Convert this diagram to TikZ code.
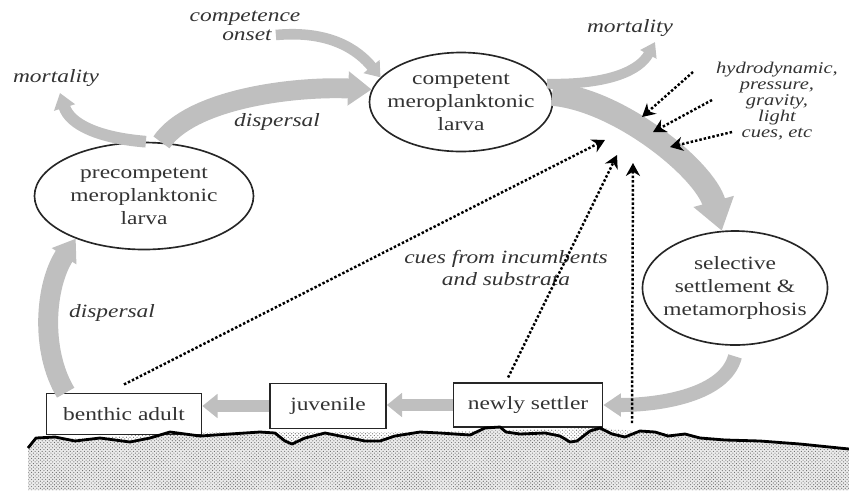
\documentclass[tikz,border=0pt]{standalone}
\usepackage{fontspec}
\setmainfont{Liberation Serif}[FakeStretch=1.25]
\usetikzlibrary{arrows.meta,shapes.geometric,patterns,positioning}

\begin{document}
\begin{tikzpicture}[x=0.03cm,y=-0.03cm,
    every node/.style={text=black!80,font=\fontsize{16}{19.5}\selectfont},
    stage/.style={ellipse,draw=black!85,line width=1.4pt,fill=white,inner ysep=0pt,align=center},
    stagebox/.style={rectangle,draw=black!85,line width=1.4pt,fill=white,inner sep=0pt},
    lbl/.style={font=\fontsize{16}{19.5}\selectfont\itshape,align=center},
    flow/.style={black!25,line width=#1},
    cue/.style={black,line width=2.1pt,dash pattern=on 2.1pt off 1.7pt,-{Stealth[length=11pt,width=12pt]}}]
  \useasboundingbox (0,0) rectangle (849,490);

  % sea floor
  \fill[black!8] (28,448) -- (36,438) -- (55,437) -- (75,441) -- (100,438) -- (130,442) -- (150,438) -- (170,432) -- (185,434) -- (200,436) -- (230,434) -- (260,432) -- (275,433) -- (285,441) -- (292,444) -- (305,438) -- (325,433) -- (345,437) -- (365,441) -- (380,441) -- (395,436) -- (420,432) -- (440,433) -- (470,435) -- (485,428) -- (500,427) -- (506,432) -- (520,434) -- (545,433) -- (560,436) -- (570,442) -- (577,441) -- (590,431) -- (600,428) -- (612,434) -- (625,437) -- (640,431) -- (655,432) -- (668,436) -- (685,434) -- (700,438) -- (725,440) -- (760,441) -- (800,444) -- (849,449) -- (849,490) -- (28,490) -- cycle;
  \fill[pattern=crosshatch dots,pattern color=black!60] (28,448) -- (36,438) -- (100,438) -- (170,432) -- (260,432) -- (420,432) -- (600,428) -- (849,449) -- (849,490) -- (28,490) -- cycle;

  % stages
  \node[stage,minimum width=6.24cm,minimum height=3.21cm] (pre) at (144,196) {precompetent\\meroplanktonic\\larva};
  \node[stage,inner xsep=-8pt,minimum width=5.49cm,minimum height=2.97cm] (comp) at (461,102) {competent\\meroplanktonic\\larva};
  \node[stage,inner xsep=-8pt,minimum width=5.55cm,minimum height=3.42cm] (sel) at (735,288) {selective\\settlement \&\\metamorphosis};
  \node[stagebox,minimum width=4.47cm,minimum height=1.32cm] (newly) at (528,405) {newly settler};
  \node[stagebox,minimum width=3.48cm,minimum height=1.35cm] (juv) at (328,406) {juvenile};
  \node[stagebox,minimum width=4.65cm,minimum height=1.23cm] (adult) at (124,414) {benthic adult};

  % labels
  \node[lbl] (compet) at (245,18) {competence};
  \node[lbl] (onset) at (247,35) {onset};
  \node[lbl] (mortL) at (56,78) {mortality};
  \node[lbl] (dispT) at (277,122) {dispersal};
  \node[lbl] (mortR) at (630,28) {mortality};
  \node[lbl,font=\fontsize{14}{13.6}\selectfont\itshape] (phys) at (777,101) {hydrodynamic,\\pressure,\\gravity,\\light\\cues, etc};
  \node[lbl] (cues) at (506,268) {cues from incumbents\\and substrata};
  \node[lbl] (dispL) at (112,313) {dispersal};

  \coordinate (mL) at (60,93);
  \coordinate (mR) at (655,42);
  \coordinate (t1) at (605,140);
  \coordinate (t2) at (617,155);
  \coordinate (t3) at (633,163);
  \coordinate (g3) at (632,423);
  \coordinate (h1) at (693,72);
  \coordinate (h2) at (712,100);
  \coordinate (h3) at (732,132);
  \coordinate (p1) at (642,117);
  \coordinate (p2) at (653,132);
  \coordinate (p3) at (670,147);

  % life cycle
  \draw[flow=10pt,-{Triangle[length=13pt,width=18pt]}] (pre.88) .. controls (100,138) and (70,125) .. (mL);
  \draw[flow=17pt,-{Triangle[length=20pt,width=28pt]}] (pre.72) .. controls (190,100) and (290,86) .. (comp.172);
  \draw[flow=9pt,-{Triangle[length=12pt,width=17pt]}] (onset.east) .. controls (330,30) and (358,50) .. (comp.163);
  \draw[flow=8.5pt,-{Triangle[length=12pt,width=15pt]}] (comp.12) .. controls (610,85) and (640,70) .. (mR);
  \draw[flow=20pt,-{Triangle[length=26pt,width=34pt]}] (comp.5) .. controls (620,100) and (705,170) .. (sel.103);
  \draw[flow=12pt,-{Triangle[length=15pt,width=19pt]}] ([yshift=-9pt]sel.south) .. controls (725,395) and (660,405) .. (newly.east);
  \draw[flow=11pt,-{Triangle[length=13pt,width=20pt]}] (newly.west) -- (newly.west -| juv.east);
  \draw[flow=11pt,-{Triangle[length=13pt,width=20pt]}] (juv.west) -- (juv.west -| adult.east);
  \draw[flow=17pt,-{Triangle[length=18pt,width=24pt]}] ([xshift=0.6cm]adult.north west) .. controls (40,350) and (45,285) .. (pre.212);

  % cues
  \draw[cue] ([yshift=7pt]adult.north) -- (t1);
  \draw[cue] ([xshift=-17pt,yshift=4pt]newly.north) -- (t2);
  \draw[cue] (g3) -- (t3);
  \draw[cue] (h1) -- (p1);
  \draw[cue] (h2) -- (p2);
  \draw[cue] (h3) -- (p3);

  % surface line
  \draw[line width=2.4pt,line join=round] (28,448) -- (36,438) -- (55,437) -- (75,441) -- (100,438) -- (130,442) -- (150,438) -- (170,432) -- (185,434) -- (200,436) -- (230,434) -- (260,432) -- (275,433) -- (285,441) -- (292,444) -- (305,438) -- (325,433) -- (345,437) -- (365,441) -- (380,441) -- (395,436) -- (420,432) -- (440,433) -- (470,435) -- (485,428) -- (500,427) -- (506,432) -- (520,434) -- (545,433) -- (560,436) -- (570,442) -- (577,441) -- (590,431) -- (600,428) -- (612,434) -- (625,437) -- (640,431) -- (655,432) -- (668,436) -- (685,434) -- (700,438) -- (725,440) -- (760,441) -- (800,444) -- (849,449);
\end{tikzpicture}
\end{document}
